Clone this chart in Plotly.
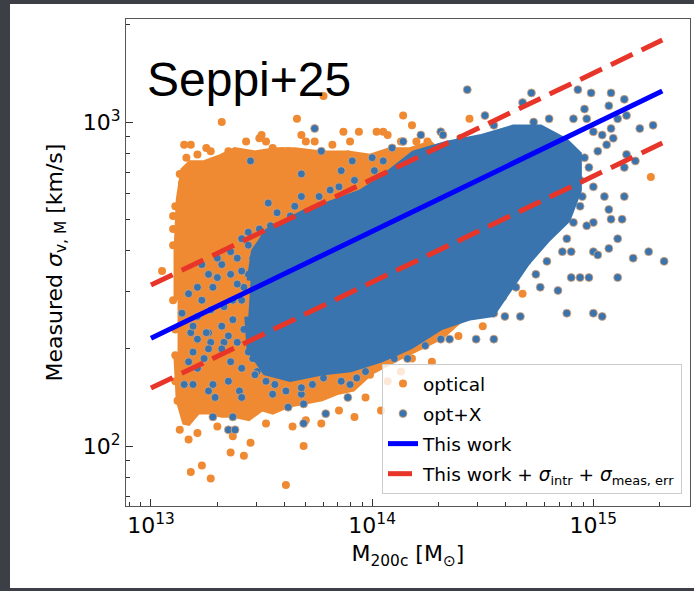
import plotly.graph_objects as go

# ---------------- data (log10 values) ----------------
# dense "optical" cloud outline (log10 M200c, log10 sigma)
optical_core_logm = [13.12, 13.12, 13.13, 13.15, 13.18, 13.24, 13.32, 13.38, 13.47, 13.56, 13.65, 13.77,
                     13.89, 13.99, 14.08, 14.17, 14.26, 14.35, 14.44, 14.53, 14.49, 14.31, 14.13, 13.99,
                     13.91, 13.84, 13.77, 13.69, 13.62, 13.55, 13.50, 13.44, 13.37, 13.32, 13.26, 13.21,
                     13.16, 13.13, 13.12]
optical_core_logs = [2.45, 2.60, 2.76, 2.85, 2.87, 2.87, 2.89, 2.91, 2.90, 2.91, 2.91, 2.90,
                     2.90, 2.89, 2.91, 2.91, 2.93, 2.87, 2.82, 2.67, 2.45, 2.34, 2.28, 2.23,
                     2.18, 2.17, 2.15, 2.14, 2.13, 2.11, 2.12, 2.09, 2.10, 2.10, 2.11, 2.11,
                     2.07, 2.14, 2.27]

# individually visible "optical" clusters
optical_logm = [13.78, 13.50, 13.32, 13.66, 13.68, 13.70, 13.49, 13.15, 13.18, 13.21, 13.87, 13.94,
                13.82, 14.02, 14.05, 14.07, 14.14, 14.18, 13.35, 13.39, 13.44, 13.48, 13.55, 13.59,
                13.62, 13.10, 13.05, 13.31, 13.89, 13.95, 14.44, 14.20, 14.25, 15.26, 14.73, 14.68,
                14.50, 14.39, 14.27, 14.18, 14.27, 13.92, 14.07, 13.97, 13.18, 13.23, 13.27, 13.61,
                13.36, 13.42, 13.45, 13.69, 13.21, 13.37, 13.30, 13.64, 13.77, 13.70, 13.17, 13.13,
                13.52, 13.85, 13.10, 13.11, 13.11, 13.14, 13.16, 13.27, 13.43, 13.74, 14.13, 14.31,
                14.37, 13.99, 14.13, 14.04,
                13.10, 13.10, 13.11, 13.12, 13.11, 13.13, 13.25, 13.52, 13.90]
optical_logs = [3.08, 2.96, 3.00, 3.01, 2.96, 2.94, 2.95, 2.93, 2.93, 2.90, 2.97, 2.97,
                2.93, 2.97, 2.97, 2.96, 3.02, 2.99, 2.91, 2.90, 2.87, 2.88, 2.92, 2.91,
                2.91, 2.71, 2.54, 2.88, 2.90, 2.89, 3.01, 2.94, 2.94, 2.83, 2.67, 2.47,
                2.37, 2.34, 2.26, 2.27, 2.37, 2.09, 2.20, 2.15, 1.92, 1.94, 1.90, 1.88,
                1.98, 1.97, 2.01, 2.00, 2.04, 2.03, 2.06, 2.06, 2.07, 2.08, 2.02, 2.05,
                2.07, 2.11, 2.62, 2.36, 2.20, 2.81, 2.89, 2.91, 2.94, 2.94, 2.94, 2.91,
                2.85, 2.22, 2.23, 2.11,
                2.67, 2.45, 2.28, 2.14, 2.74, 2.84, 2.92, 2.94, 2.94]

# dense "opt+X" cloud outline
optx_core_logm = [13.45, 13.47, 13.53, 13.61, 13.70, 13.79, 13.88, 13.95, 14.04, 14.13, 14.19, 14.34,
                  14.49, 14.64, 14.76, 14.87, 14.93, 14.93, 14.88, 14.79, 14.70, 14.61, 14.54, 14.44,
                  14.31, 14.17, 14.04, 13.90, 13.77, 13.63, 13.52, 13.45, 13.44]
optx_core_logs = [2.51, 2.60, 2.66, 2.69, 2.72, 2.74, 2.76, 2.78, 2.82, 2.87, 2.90, 2.93,
                  2.95, 2.98, 2.98, 2.94, 2.90, 2.79, 2.70, 2.64, 2.57, 2.48, 2.41, 2.40,
                  2.37, 2.31, 2.27, 2.24, 2.23, 2.21, 2.23, 2.30, 2.40]

# individually visible "opt+X" clusters
optx_logm = [13.74, 13.77, 13.45, 13.68, 13.53, 13.68, 13.86, 14.00, 14.05, 14.09, 14.14, 13.91,
             14.22, 14.31, 14.43, 14.51, 14.61, 14.67, 14.72, 14.68, 14.93, 14.99, 15.08, 15.14,
             15.07, 14.91, 14.96, 14.97, 15.11, 15.15, 15.08, 15.21, 15.27, 14.73, 14.32, 15.00,
             15.04, 15.09, 15.02, 15.06, 15.15, 15.19, 15.14, 14.96, 14.98, 14.94, 15.00, 15.05,
             15.14, 14.95, 14.94, 15.07, 15.13, 15.08, 15.00, 14.97, 14.91, 15.11, 15.07, 15.00,
             15.02, 14.90, 14.86, 14.88, 14.83, 14.79, 14.82, 15.25, 15.18, 15.32, 15.11, 14.98,
             14.94, 14.90, 14.76, 14.84, 14.65, 14.74, 14.70, 14.79, 14.71, 14.76, 14.55, 14.60,
             14.67, 14.88, 15.00, 15.04, 14.59, 14.47, 14.55, 14.35, 14.31, 14.24, 14.16, 14.05,
             14.43, 14.36, 14.50,
             13.23, 13.30, 13.36, 13.17, 13.23, 13.14, 13.21, 13.28, 13.32, 13.44, 13.50, 13.39,
             13.27, 13.33, 13.18, 13.26, 13.32, 13.37, 13.42, 13.21, 13.27, 13.33, 13.17, 13.21,
             13.26, 13.32, 13.36, 13.41, 13.48, 13.53, 13.15, 13.19, 13.26, 13.28, 13.29, 13.35,
             13.40, 13.41, 13.52, 13.56, 13.61, 13.62, 13.68, 13.69, 13.69, 13.73, 13.78, 13.79,
             13.86, 13.90, 13.89, 13.93, 13.28, 13.37, 13.35, 13.38, 13.55,
             13.54, 13.63, 13.81, 13.92, 14.01, 14.40, 14.55, 14.80,
             13.19, 13.25, 13.37, 13.42, 13.46, 13.51, 13.57, 13.62, 13.64, 13.55, 13.46, 13.44,
             13.39, 13.35, 13.24, 13.19, 13.41, 13.36, 13.30, 13.26, 13.46, 13.44, 13.50, 13.39,
             13.21,
             13.44, 13.49, 13.57, 13.65, 13.76, 13.85, 13.68, 13.97, 14.10, 13.47, 13.41, 13.41]
optx_logs = [2.98, 2.91, 2.88, 2.84, 2.75, 2.77, 2.85, 2.89, 2.88, 2.92, 2.94, 2.88,
             2.96, 2.97, 3.10, 3.02, 2.97, 2.95, 3.09, 3.06, 3.10, 3.09, 3.09, 3.07,
             3.05, 3.01, 3.04, 3.01, 3.01, 3.02, 2.98, 2.98, 2.99, 3.00, 2.96, 2.97,
             2.96, 2.95, 2.91, 2.93, 2.90, 2.88, 2.86, 2.89, 2.86, 2.82, 2.80, 2.77,
             2.77, 2.77, 2.74, 2.73, 2.70, 2.70, 2.69, 2.68, 2.69, 2.64, 2.61, 2.60,
             2.59, 2.60, 2.60, 2.64, 2.67, 2.70, 2.74, 2.60, 2.58, 2.57, 2.52, 2.52,
             2.52, 2.52, 2.49, 2.48, 2.49, 2.53, 2.57, 2.57, 2.63, 2.65, 2.41, 2.40,
             2.40, 2.41, 2.41, 2.40, 2.46, 2.33, 2.33, 2.33, 2.33, 2.31, 2.27, 2.30,
             2.42, 2.42, 2.43,
             2.56, 2.52, 2.53, 2.47, 2.45, 2.41, 2.40, 2.49, 2.56, 2.66, 2.66, 2.58,
             2.42, 2.43, 2.35, 2.35, 2.37, 2.45, 2.49, 2.33, 2.32, 2.32, 2.26, 2.24,
             2.30, 2.30, 2.26, 2.24, 2.23, 2.23, 2.19, 2.19, 2.17, 2.19, 2.15, 2.20,
             2.17, 2.15, 2.20, 2.19, 2.17, 2.12, 2.16, 2.13, 2.07, 2.19, 2.21, 2.10,
             2.20, 2.19, 2.15, 2.21, 2.09, 2.09, 2.05, 2.05, 2.16,
             2.68, 2.71, 2.79, 2.82, 2.85, 2.95, 2.99, 3.01,
             2.37, 2.35, 2.39, 2.36, 2.33, 2.30, 2.30, 2.27, 2.24, 2.26, 2.27, 2.29,
             2.32, 2.34, 2.27, 2.29, 2.64, 2.60, 2.58, 2.53, 2.58, 2.53, 2.51, 2.50,
             2.49,
             2.62, 2.67, 2.72, 2.74, 2.77, 2.80, 2.18, 2.23, 2.27, 2.22, 2.45, 2.54]

# scaling relation and its scatter band
line_mass = [1.0e13, 2.05e15]
this_work = [215, 1247]
band_upper = [314, 1790]
band_lower = [151, 861]

# ---------------- styling ----------------
ORANGE = "#ef8a33"
BLUE = "#3a74ae"
W, H = 694, 591
L, R, T, B = 126, 690, 19, 506   # plot area in page pixels


def px_to_paper_x(px):
    return (px - L) / (R - L)


def px_to_paper_y(py):
    return (B - py) / (B - T)


fig = go.Figure()

fig.add_trace(go.Scatter(
    x=[10 ** v for v in optical_core_logm], y=[10 ** v for v in optical_core_logs],
    mode="lines", fill="toself", fillcolor=ORANGE,
    line=dict(color=ORANGE, width=8),
    showlegend=False, hoverinfo="skip"))
fig.add_trace(go.Scatter(
    x=[10 ** v for v in optical_logm], y=[10 ** v for v in optical_logs],
    mode="markers", name="optical", legendgroup="a",
    marker=dict(color=ORANGE, size=8, opacity=1)))
fig.add_trace(go.Scatter(
    x=[10 ** v for v in optx_logm], y=[10 ** v for v in optx_logs],
    mode="markers", name="opt+X", legendgroup="b",
    marker=dict(color=BLUE, size=8, opacity=1, line=dict(color="#e3a46e", width=0.8))))
fig.add_trace(go.Scatter(
    x=[10 ** v for v in optx_core_logm], y=[10 ** v for v in optx_core_logs],
    mode="lines", fill="toself", fillcolor=BLUE,
    line=dict(color=BLUE, width=8),
    showlegend=False, hoverinfo="skip"))
fig.add_trace(go.Scatter(
    x=line_mass, y=this_work, mode="lines", name="This work", legendgroup="c",
    line=dict(color="#0000ff", width=5)))
fig.add_trace(go.Scatter(
    x=line_mass, y=band_upper, mode="lines", legendgroup="d",
    name="This work + <i>σ</i><sub>intr</sub> + <i>σ</i><sub>meas, err</sub>",
    line=dict(color="#e8352a", width=5, dash="24px,10px")))
fig.add_trace(go.Scatter(
    x=line_mass, y=band_lower, mode="lines", legendgroup="d", showlegend=False,
    line=dict(color="#e8352a", width=5, dash="24px,10px")))

axis_common = dict(
    type="log", showgrid=False, zeroline=False, showline=True, mirror=True,
    linecolor="#555555", linewidth=1, ticks="inside", ticklen=7, tickwidth=1,
    tickcolor="#333333", tickfont=dict(family="DejaVu Sans", size=22, color="black"),
)

x_minor = [k * 10 ** e for e in (12, 13, 14, 15) for k in range(2, 10)]
y_minor = [k * 10 ** e for e in (1, 2, 3) for k in range(2, 10)]

fig.update_xaxes(
    **axis_common,
    range=[12.887, 15.437],
    tickvals=[1e13, 1e14, 1e15],
    ticktext=["10<sup>13</sup>", "10<sup>14</sup>", "10<sup>15</sup>"],
    minor=dict(tickvals=x_minor, ticks="inside", ticklen=4, tickcolor="#333333", showgrid=False),
    title=dict(text="M<sub>200c</sub> [M<sub>⊙</sub>]",
               font=dict(family="DejaVu Sans", size=22, color="black"), standoff=8),
)
fig.update_yaxes(
    **axis_common,
    range=[1.815, 3.318],
    tickvals=[1e2, 1e3],
    ticktext=["10<sup>2</sup>", "10<sup>3</sup>"],
    minor=dict(tickvals=y_minor, ticks="inside", ticklen=4, tickcolor="#333333", showgrid=False),
    title=dict(text="Measured <i>σ</i><sub>v, M</sub> [km/s]",
               font=dict(family="DejaVu Sans", size=22, color="black"), standoff=14),
)

fig.add_shape(type="rect", xref="paper", yref="paper",
              x0=px_to_paper_x(10), x1=px_to_paper_x(694),
              y0=px_to_paper_y(588), y1=px_to_paper_y(4),
              fillcolor="white", line=dict(width=0), layer="below")

fig.add_annotation(text="Seppi+25", xref="paper", yref="paper",
                   x=px_to_paper_x(145), y=px_to_paper_y(79),
                   xanchor="left", yanchor="middle", showarrow=False,
                   font=dict(family="Liberation Sans", size=48, color="black"))

fig.update_layout(
    width=W, height=H,
    margin=dict(l=L, r=W - R, t=T, b=H - B, pad=0),
    paper_bgcolor="#3c3f46", plot_bgcolor="white",
    showlegend=True,
    legend=dict(
        x=px_to_paper_x(682), y=px_to_paper_y(494), xanchor="right", yanchor="bottom",
        bgcolor="rgba(255,255,255,0.8)", bordercolor="#cccccc", borderwidth=1,
        font=dict(family="DejaVu Sans", size=18.5, color="black"),
        traceorder="grouped", tracegroupgap=3,
    ),
)

fig.write_html("out.html")
